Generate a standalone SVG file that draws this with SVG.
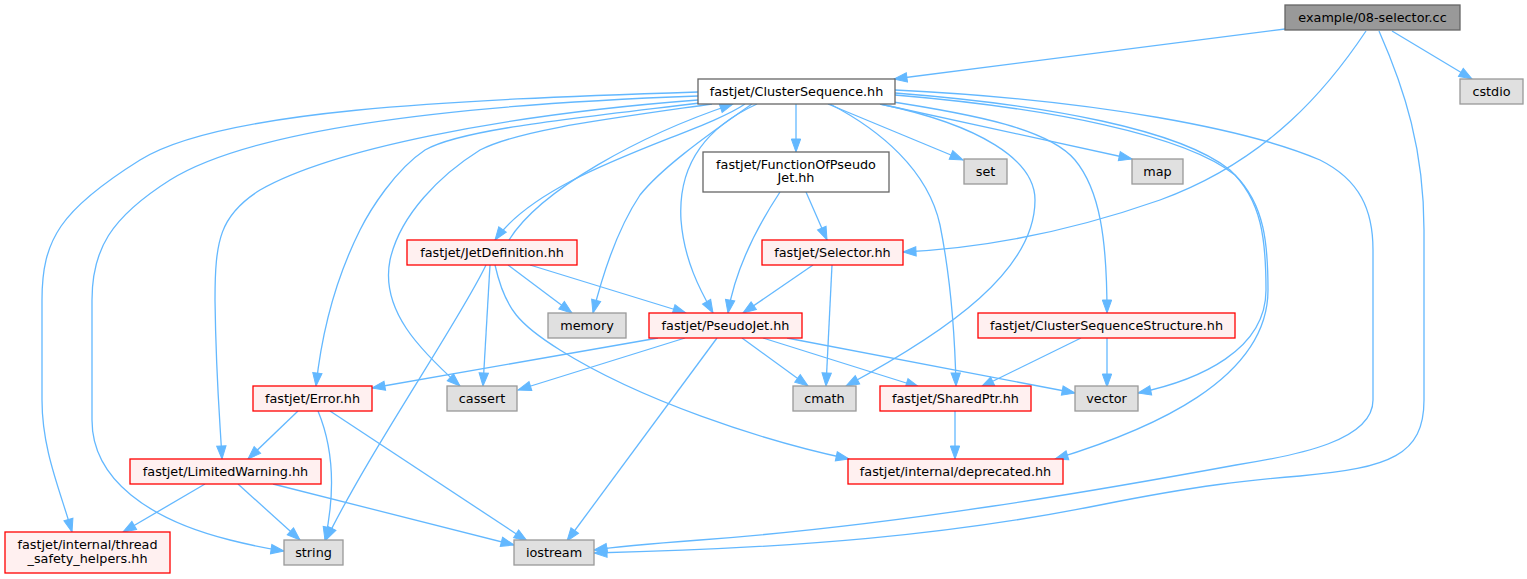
<svg xmlns="http://www.w3.org/2000/svg" width="1527" height="579" viewBox="0 0 1527 579">
<style>
text{font-family:"DejaVu Sans","Noto Sans",sans-serif;font-size:12.8px;fill:#000;text-anchor:middle}
.root rect{fill:#999999;stroke:#666666;stroke-width:1.3}
.plain rect{fill:#ffffff;stroke:#666666;stroke-width:1.3}
.sys rect{fill:#e0e0e0;stroke:#999999;stroke-width:1.3}
.red rect{fill:#fff0f0;stroke:#ff0000;stroke-width:1.3}
#edges path{fill:none;stroke:#63b8ff;stroke-width:1.3;marker-end:url(#a)}
</style>
<defs>
<marker id="a" markerUnits="userSpaceOnUse" markerWidth="14" markerHeight="10" refX="13" refY="4.67" orient="auto" overflow="visible"><path d="M0,0 L13,4.67 L0,9.33 z" fill="#63b8ff" stroke="#63b8ff" stroke-width="1"/></marker>
</defs>
<rect width="1527" height="579" fill="#ffffff"/>
<g id="edges">
<path d="M1285,29 L894,79"/>
<path d="M1366,31 C1330,85 1270,160 1160,200 C1080,228 990,248 903,252"/>
<path d="M1379,31 C1405,90 1424,150 1424,230 L1424,400 C1424,455 1390,468 1300,476 C1250,480 1200,485 1100,505 C950,535 800,548 594,553"/>
<path d="M1392,31 L1472,79"/>
<path d="M828,104 L963,160"/>
<path d="M880,104 L1132,159"/>
<path d="M796,104 L796,152"/>
<path d="M745,104 C700,135 545,170 495,240"/>
<path d="M509,240 C540,190 640,135 733,104"/>
<path d="M757,104 C700,130 678,170 681,220 C684,260 700,290 713,313"/>
<path d="M752,104 C700,140 660,170 640,195 C620,225 605,265 593,313"/>
<path d="M780,192 C755,230 735,270 728,313"/>
<path d="M806,192 L827,240"/>
<path d="M813,265 L743,313"/>
<path d="M832,265 L826,386"/>
<path d="M530,265 L686,313"/>
<path d="M508,265 L572,313"/>
<path d="M490,265 L483,386"/>
<path d="M486,265 C460,320 370,450 326,540"/>
<path d="M495,265 C505,310 520,325 560,350 C640,400 760,440 849,459"/>
<path d="M658,338 L372,388"/>
<path d="M685,338 L518,390"/>
<path d="M717,338 L567,541"/>
<path d="M742,338 L808,386"/>
<path d="M763,338 L919,387"/>
<path d="M787,338 L1075,393"/>
<path d="M880,104 C980,125 1035,160 1035,200 C1035,270 950,330 846,386"/>
<path d="M830,104 C880,130 928,170 940,225 C952,285 955,340 956,386"/>
<path d="M880,100 C980,115 1050,130 1075,160 C1100,190 1107,240 1107,313"/>
<path d="M895,93 C1050,105 1180,130 1230,170 C1262,200 1266,240 1266,290 C1266,350 1200,380 1138,393"/>
<path d="M895,95 C1050,108 1185,135 1235,175 C1265,205 1268,245 1268,290 C1268,380 1150,430 1055,459"/>
<path d="M895,90 C1100,100 1250,130 1320,160 C1360,180 1373,210 1373,250 L1373,400 C1373,440 1300,455 1236,465 C1100,490 900,525 700,540 C660,543 620,546 594,550"/>
<path d="M698,92 C450,100 220,110 140,160 C60,210 42,240 42,300 L42,400 C42,450 60,490 72,532"/>
<path d="M698,96 C450,105 250,130 170,180 C110,218 92,250 92,300 L92,420 C92,480 150,520 230,540 C250,545 270,549 284,551"/>
<path d="M698,100 C500,115 330,150 260,190 C220,215 215,240 215,300 C216,380 220,420 222,459"/>
<path d="M700,103 C560,120 460,130 425,150 C395,170 370,210 360,230 C335,280 322,330 316,386"/>
<path d="M712,104 C600,120 520,130 480,150 C440,175 400,215 390,260 C380,310 420,350 460,386"/>
<path d="M1081,338 L981,387"/>
<path d="M1107,338 L1107,387"/>
<path d="M955,411 L955,459"/>
<path d="M298,411 L248,459"/>
<path d="M318,411 C330,440 338,480 325,540"/>
<path d="M330,411 L527,541"/>
<path d="M205,484 L123,532"/>
<path d="M238,484 L300,540"/>
<path d="M273,484 L514,545"/>
</g>
<g id="n_root" class="root"><rect x="1285" y="5" width="175" height="25"/><text x="1372.5" y="22">example/08-selector.cc</text></g>
<g id="n_cstdio" class="sys"><rect x="1460" y="79" width="63" height="25"/><text x="1491.5" y="96">cstdio</text></g>
<g id="n_cs" class="plain"><rect x="698" y="79" width="197" height="25"/><text x="796.5" y="96">fastjet/ClusterSequence.hh</text></g>
<g id="n_set" class="sys"><rect x="964" y="159" width="43" height="25"/><text x="985.5" y="176">set</text></g>
<g id="n_map" class="sys"><rect x="1132" y="159" width="51" height="25"/><text x="1157.5" y="176">map</text></g>
<g id="n_fopj" class="plain"><rect x="703" y="152" width="186" height="40"/><text x="796" y="168.8">fastjet/FunctionOfPseudo</text><text x="796" y="182.3">Jet.hh</text></g>
<g id="n_jd" class="red"><rect x="407" y="240" width="170" height="25"/><text x="492" y="257">fastjet/JetDefinition.hh</text></g>
<g id="n_sel" class="red"><rect x="762" y="240" width="141" height="25"/><text x="832.5" y="257">fastjet/Selector.hh</text></g>
<g id="n_memory" class="sys"><rect x="548" y="313" width="78" height="25"/><text x="587" y="330">memory</text></g>
<g id="n_pj" class="red"><rect x="649" y="313" width="153" height="25"/><text x="725.5" y="330">fastjet/PseudoJet.hh</text></g>
<g id="n_css" class="red"><rect x="978" y="313" width="257" height="25"/><text x="1106.5" y="330">fastjet/ClusterSequenceStructure.hh</text></g>
<g id="n_err" class="red"><rect x="253" y="386" width="119" height="25"/><text x="312.5" y="403">fastjet/Error.hh</text></g>
<g id="n_cassert" class="sys"><rect x="447" y="386" width="70" height="25"/><text x="482" y="403">cassert</text></g>
<g id="n_cmath" class="sys"><rect x="793" y="386" width="63" height="25"/><text x="824.5" y="403">cmath</text></g>
<g id="n_sp" class="red"><rect x="880" y="386" width="151" height="25"/><text x="955.5" y="403">fastjet/SharedPtr.hh</text></g>
<g id="n_vector" class="sys"><rect x="1075" y="386" width="63" height="25"/><text x="1106.5" y="403">vector</text></g>
<g id="n_lw" class="red"><rect x="130" y="459" width="191" height="25"/><text x="225.5" y="476">fastjet/LimitedWarning.hh</text></g>
<g id="n_dep" class="red"><rect x="848" y="459" width="215" height="25"/><text x="955.5" y="476">fastjet/internal/deprecated.hh</text></g>
<g id="n_ts" class="red"><rect x="5" y="532" width="165" height="41"/><text x="87.5" y="549.3">fastjet/internal/thread</text><text x="87.5" y="562.8">_safety_helpers.hh</text></g>
<g id="n_string" class="sys"><rect x="284" y="540" width="59" height="25"/><text x="313.5" y="557">string</text></g>
<g id="n_iostream" class="sys"><rect x="514" y="540" width="80" height="25"/><text x="554" y="557">iostream</text></g>
</svg>
